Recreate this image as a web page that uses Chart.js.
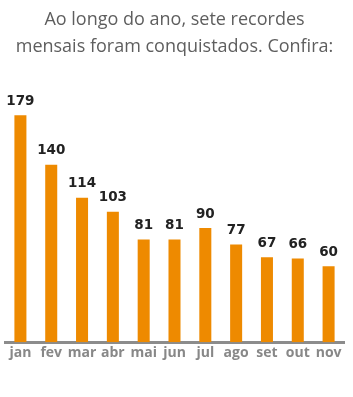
<!DOCTYPE html>
<html>
<head>
<meta charset="utf-8">
<script src="https://cdn.jsdelivr.net/npm/chart.js@4"></script>
<style>
    html, body { margin: 0; padding: 0; background: #fff; }
    #wrap { width: 353px; height: 397px; }
</style>
</head>
<body>
<div id="wrap"><canvas id="recChart" width="353" height="397"></canvas></div>
<script>
// Recordes mensais
const months = ["jan", "fev", "mar", "abr", "mai", "jun", "jul", "ago", "set", "out", "nov"];
const records = [179, 140, 114, 103, 81, 81, 90, 77, 67, 66, 60];
const titleLines = ["Ao longo do ano, sete recordes", "mensais foram conquistados. Confira:"];

/* value labels on top of bars */
const valueLabels = {
    id: "valueLabels",
    afterDatasetsDraw(chart) {
        const ctx = chart.ctx;
        const meta = chart.getDatasetMeta(0);
        ctx.save();
        ctx.font = "bold 13.5px 'DejaVu Sans'";
        ctx.fillStyle = "#222";
        ctx.textAlign = "center";
        ctx.textBaseline = "bottom";
        meta.data.forEach((bar, i) => {
            ctx.fillText(records[i], bar.x, bar.y - 7);
        });
        ctx.restore();
    }
};

new Chart(document.getElementById("recChart"), {
    type: "bar",
    data: {
        labels: months,
        datasets: [{
            data: records,
            backgroundColor: "#ee8a00",
            barPercentage: 0.78,
            categoryPercentage: 0.5
        }]
    },
    options: {
        responsive: false,
        animation: false,
        layout: { padding: { left: 5, right: 9, top: 0, bottom: 34 } },
        plugins: {
            legend: { display: false },
            tooltip: { enabled: false },
            title: {
                display: true,
                text: titleLines,
                color: "#5e5e5e",
                font: { family: "'Open Sans'", size: 18, weight: "normal", lineHeight: 1.5 },
                padding: { top: 6, bottom: 16 }
            }
        },
        scales: {
            x: {
                grid: { display: false, drawTicks: false },
                border: { display: true, color: "#8c8c8c", width: 3 },
                ticks: {
                    color: "#888",
                    font: { family: "'Open Sans'", size: 14, weight: "bold" },
                    padding: 2,
                    autoSkip: false,
                    maxRotation: 0
                }
            },
            y: {
                display: false,
                beginAtZero: true,
                max: 210
            }
        }
    },
    plugins: [valueLabels]
});
</script>
</body>
</html>
